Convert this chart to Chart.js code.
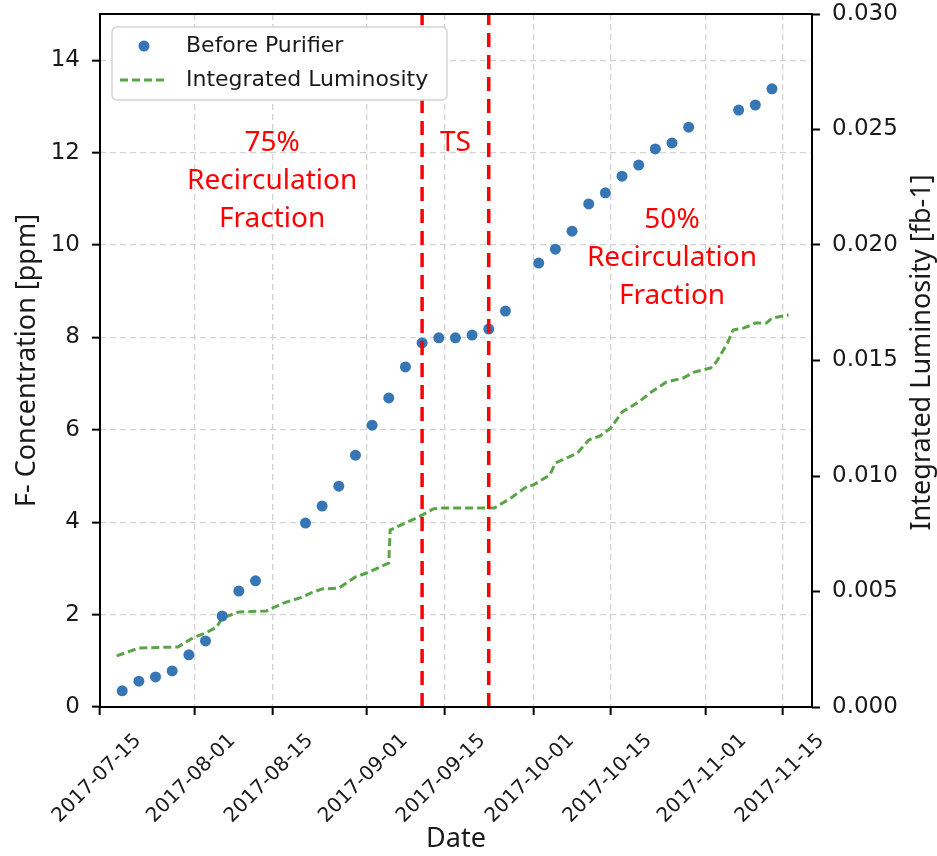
<!DOCTYPE html>
<html>
<head>
<meta charset="utf-8">
<script src="https://cdn.jsdelivr.net/npm/chart.js@4.4.0/dist/chart.umd.min.js"></script>
<style>
  body { margin: 0; background: #fff; }
</style>
</head>
<body>
<canvas id="grafico" width="937" height="856"></canvas>
<script>
// muestras "Before Purifier"
const fechasMuestra = [
  "2017-07-19", "2017-07-22", "2017-07-25", "2017-07-28", "2017-07-31", "2017-08-03",
  "2017-08-06", "2017-08-09", "2017-08-12", "2017-08-21", "2017-08-24", "2017-08-27",
  "2017-08-30", "2017-09-02", "2017-09-05", "2017-09-08", "2017-09-11", "2017-09-14",
  "2017-09-17", "2017-09-20", "2017-09-23", "2017-09-26", "2017-10-02", "2017-10-05",
  "2017-10-08", "2017-10-11", "2017-10-14", "2017-10-17", "2017-10-20", "2017-10-23",
  "2017-10-26", "2017-10-29", "2017-11-07", "2017-11-10", "2017-11-13"
];
const concentracion = [
  0.35, 0.56, 0.65, 0.78, 1.13, 1.43, 1.97, 2.51, 2.73, 3.98, 4.35, 4.78,
  5.45, 6.10, 6.69, 7.36, 7.88, 7.99, 7.99, 8.05, 8.18, 8.57, 9.61, 9.91,
  10.30, 10.89, 11.13, 11.49, 11.73, 12.08, 12.21, 12.55, 12.92, 13.03, 13.38
];

// luminosidad integrada
const fechasLumi = [
  "2017-07-18", "2017-07-22", "2017-07-29", "2017-08-01", "2017-08-03", "2017-08-05",
  "2017-08-06", "2017-08-09", "2017-08-14", "2017-08-17", "2017-08-20", "2017-08-22",
  "2017-08-24", "2017-08-27", "2017-08-30", "2017-09-01", "2017-09-05", "2017-09-05T06:00",
  "2017-09-08", "2017-09-10", "2017-09-13", "2017-09-14", "2017-09-24", "2017-09-27",
  "2017-09-30", "2017-10-01", "2017-10-04", "2017-10-05", "2017-10-09", "2017-10-11",
  "2017-10-13", "2017-10-15", "2017-10-17", "2017-10-20", "2017-10-22", "2017-10-25",
  "2017-10-28", "2017-10-30", "2017-11-02", "2017-11-03", "2017-11-05", "2017-11-06",
  "2017-11-08", "2017-11-10", "2017-11-12", "2017-11-13", "2017-11-16"
];
const luminosidad = [
  0.00221, 0.00255, 0.00260, 0.00303, 0.00320, 0.00346,
  0.00385, 0.00411, 0.00416, 0.00450, 0.00472, 0.00494,
  0.00511, 0.00515, 0.00563, 0.00580, 0.00623, 0.00766,
  0.00797, 0.00818, 0.00857, 0.00861, 0.00861, 0.00905,
  0.00957, 0.00961, 0.01004, 0.01056, 0.01100, 0.01156,
  0.01173, 0.01208, 0.01277, 0.01320, 0.01359, 0.01407,
  0.01424, 0.01450, 0.01468, 0.01494, 0.01576, 0.01632,
  0.01641, 0.01662, 0.01662, 0.01684, 0.01697
];

// lineas rojas (periodo TS)
const fechasCorte = ["2017-09-11", "2017-09-23"];

const ticksFecha = [
  "2017-07-15", "2017-08-01", "2017-08-15", "2017-09-01",
  "2017-09-15", "2017-10-01", "2017-10-15", "2017-11-01", "2017-11-15"
];
const ticksConc = [0, 2, 4, 6, 8, 10, 12, 14];
const ticksLumi = [0, 0.005, 0.010, 0.015, 0.020, 0.025, 0.030];

const notas = [
  { fecha: "2017-08-15", valor: 12.2, lineas: ["75%", "Recirculation", "Fraction"] },
  { fecha: "2017-09-17", valor: 12.2, lineas: ["TS"] },
  { fecha: "2017-10-26", valor: 10.54, lineas: ["50%", "Recirculation", "Fraction"] }
];

const aMs = (s) => Date.parse(s.length === 10 ? s + "T00:00:00Z" : s + ":00Z");

const AZUL = "#3676b4";
const VERDE = "#5aa346";
const ROJO = "#ff0000";

const ctx = document.getElementById("grafico").getContext("2d");

const lineasCorte = fechasCorte.map((f) => ({
  label: "corte",
  type: "line",
  data: [{ x: aMs(f), y: 0 }, { x: aMs(f), y: 15 }],
  yAxisID: "y",
  borderColor: ROJO,
  borderWidth: 3.5,
  borderDash: [14, 8],
  pointRadius: 0,
  showLine: true,
  order: 0
}));

// quita el margen extra que Chart.js reserva para las etiquetas
const sinRelleno = (s) => {
  s.paddingTop = 0;
  s.paddingBottom = 0;
  s.paddingLeft = 0;
  s.paddingRight = 0;
};

const extras = {
  id: "extras",
  afterDraw(chart) {
    const { ctx, chartArea: a, scales } = chart;
    ctx.save();

    // marco
    ctx.strokeStyle = "#000";
    ctx.lineWidth = 2;
    ctx.setLineDash([]);
    ctx.strokeRect(a.left, a.top, a.right - a.left, a.bottom - a.top);

    // textos rojos
    ctx.fillStyle = ROJO;
    ctx.font = '28px "Noto Sans"';
    ctx.textAlign = "center";
    ctx.textBaseline = "middle";
    notas.forEach((n) => {
      const x = scales.x.getPixelForValue(aMs(n.fecha));
      const y = scales.y.getPixelForValue(n.valor);
      n.lineas.forEach((t, i) => ctx.fillText(t, x, y + i * 38));
    });

    // leyenda (tapa las lineas rojas)
    const lx = a.left + 12, ly = a.top + 13;
    ctx.beginPath();
    ctx.roundRect(lx, ly, 335, 73, 5);
    ctx.fillStyle = "#ffffff";
    ctx.fill();
    ctx.strokeStyle = "#d4d4d4";
    ctx.lineWidth = 1.5;
    ctx.stroke();

    const ds = chart.data.datasets;
    ctx.beginPath();
    ctx.arc(lx + 32, ly + 19, 5.5, 0, Math.PI * 2);
    ctx.fillStyle = ds[0].backgroundColor;
    ctx.fill();

    ctx.beginPath();
    ctx.setLineDash(ds[1].borderDash);
    ctx.strokeStyle = ds[1].borderColor;
    ctx.lineWidth = ds[1].borderWidth;
    ctx.moveTo(lx + 8, ly + 53);
    ctx.lineTo(lx + 56, ly + 53);
    ctx.stroke();
    ctx.setLineDash([]);

    ctx.fillStyle = "#1a1a1a";
    ctx.font = '22px "DejaVu Sans"';
    ctx.textAlign = "left";
    ctx.fillText(ds[0].label, lx + 74, ly + 19);
    ctx.fillText(ds[1].label, lx + 74, ly + 53);

    // titulo eje derecho
    ctx.font = '27px "Noto Sans"';
    ctx.textAlign = "center";
    ctx.translate(922, (a.top + a.bottom) / 2 - 8);
    ctx.rotate(-Math.PI / 2);
    ctx.fillText("Integrated Luminosity [fb-1]", 0, 0);

    ctx.restore();
  }
};

const chart = new Chart(ctx, {
  type: "scatter",
  data: {
    datasets: [
      {
        label: "Before Purifier",
        data: fechasMuestra.map((f, i) => ({ x: aMs(f), y: concentracion[i] })),
        yAxisID: "y",
        backgroundColor: AZUL,
        borderWidth: 0,
        pointRadius: 5.5,
        order: 1
      },
      {
        label: "Integrated Luminosity",
        type: "line",
        data: fechasLumi.map((f, i) => ({ x: aMs(f), y: luminosidad[i] })),
        yAxisID: "y1",
        borderColor: VERDE,
        borderWidth: 3,
        borderDash: [8, 4],
        pointRadius: 0,
        showLine: true,
        fill: false,
        tension: 0,
        order: 2
      },
      ...lineasCorte
    ]
  },
  options: {
    responsive: false,
    animation: false,
    layout: { padding: { top: 14, left: 0, right: 0, bottom: 0 } },
    plugins: { legend: { display: false }, tooltip: { enabled: false } },
    scales: {
      x: {
        type: "linear",
        min: aMs("2017-07-15"),
        max: aMs("2017-11-20T05:00"),
        afterBuildTicks: (s) => { s.ticks = ticksFecha.map((f) => ({ value: aMs(f) })); },
        afterFit: (s) => { s.height = 149; sinRelleno(s); },
        ticks: {
          autoSkip: false,
          maxRotation: 45,
          minRotation: 45,
          labelOffset: 38,
          padding: 14,
          color: "#1a1a1a",
          font: { family: "DejaVu Sans", size: 20 },
          callback: (v) => new Date(v).toISOString().slice(0, 10)
        },
        grid: {
          color: "#d3d3d3",
          lineWidth: 1.3,
          tickLength: 8,
          tickColor: "#000",
          tickWidth: 2,
          tickBorderDash: []
        },
        border: { display: false, dash: [6, 4] },
        title: {
          display: true,
          text: "Date",
          color: "#1a1a1a",
          font: { family: "Noto Sans", size: 27 },
          padding: { top: 0, bottom: 0 }
        }
      },
      y: {
        position: "left",
        min: 0,
        max: 15,
        afterBuildTicks: (s) => { s.ticks = ticksConc.map((v) => ({ value: v })); },
        afterFit: (s) => { s.width = 100; sinRelleno(s); },
        ticks: {
          padding: 12,
          color: "#1a1a1a",
          font: { family: "DejaVu Sans", size: 23 }
        },
        grid: {
          color: "#d3d3d3",
          lineWidth: 1.3,
          tickLength: 8,
          tickColor: "#000",
          tickWidth: 2,
          tickBorderDash: []
        },
        border: { display: false, dash: [6, 4] },
        title: {
          display: true,
          text: "F- Concentration [ppm]",
          color: "#1a1a1a",
          font: { family: "Noto Sans", size: 27 },
          padding: { top: 11, bottom: 0 }
        }
      },
      y1: {
        position: "right",
        min: 0,
        max: 0.03,
        afterBuildTicks: (s) => { s.ticks = ticksLumi.map((v) => ({ value: v })); },
        afterFit: (s) => { s.width = 125; sinRelleno(s); },
        ticks: {
          padding: 12,
          color: "#1a1a1a",
          font: { family: "DejaVu Sans", size: 23 },
          callback: (v) => v.toFixed(3)
        },
        grid: {
          drawOnChartArea: false,
          tickLength: 8,
          tickColor: "#000",
          tickWidth: 2,
          tickBorderDash: []
        },
        border: { display: false }
      }
    }
  },
  plugins: [extras]
});
</script>
</body>
</html>
